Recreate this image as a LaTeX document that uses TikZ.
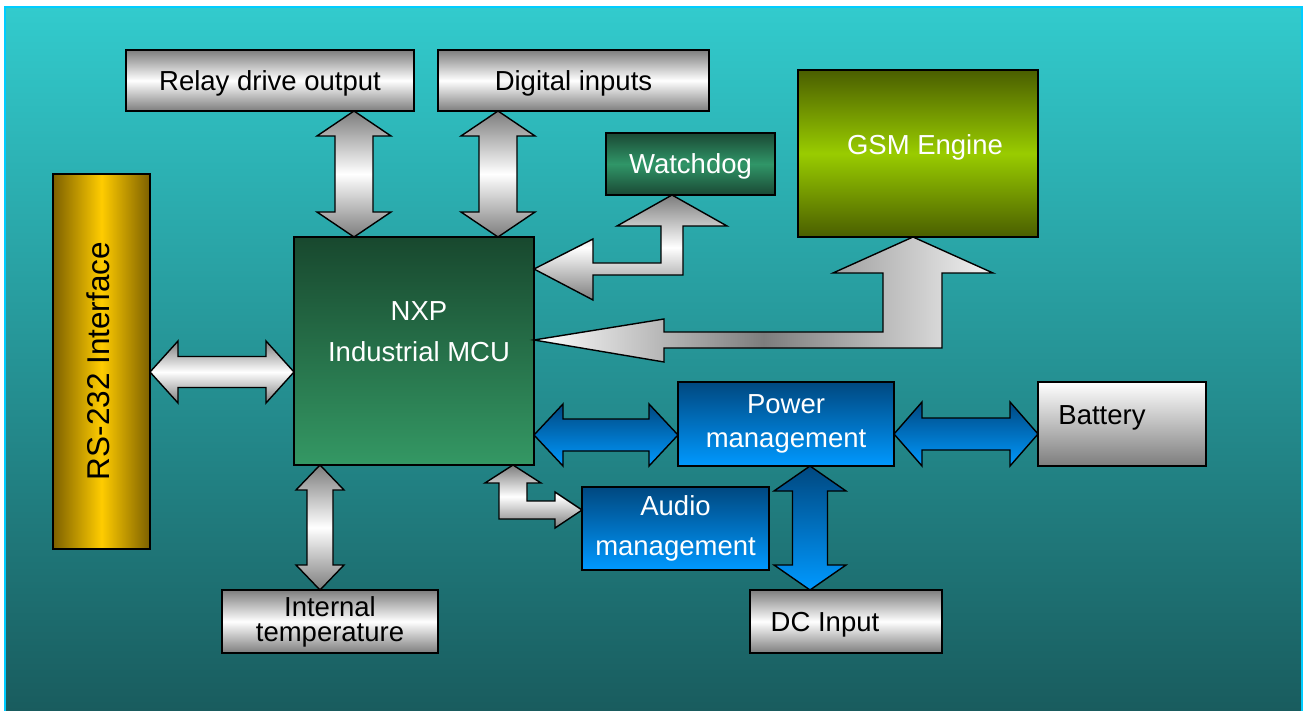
\documentclass[tikz,border=0pt]{standalone}
\usepackage{fontspec}
\setmainfont{Liberation Sans}
\usetikzlibrary{calc}

\definecolor{bgtop}{RGB}{50,203,205}
\definecolor{bgbot}{RGB}{25,92,94}
\definecolor{bgframe}{RGB}{0,204,255}
\definecolor{steel}{RGB}{125,125,125}
\definecolor{wddark}{RGB}{26,72,52}
\definecolor{wdlight}{RGB}{48,150,104}
\definecolor{gsmdark}{RGB}{74,94,0}
\definecolor{gsmlight}{RGB}{153,204,0}
\definecolor{golddark}{RGB}{125,96,0}
\definecolor{goldlight}{RGB}{255,204,0}
\definecolor{mcutop}{RGB}{24,72,46}
\definecolor{mcubot}{RGB}{52,152,100}
\definecolor{bluedark}{RGB}{0,72,128}
\definecolor{bluelight}{RGB}{0,153,255}

\newcommand\dblarrowv[6]{%
  \draw[#1] let \p1=#2, \p2=#3 in
    (\x1,\y1) -- (\x1+#4,\y1-#6) -- (\x1+#5,\y1-#6) -- (\x1+#5,\y2+#6)
    -- (\x1+#4,\y2+#6) -- (\x1,\y2) -- (\x1-#4,\y2+#6) -- (\x1-#5,\y2+#6)
    -- (\x1-#5,\y1-#6) -- (\x1-#4,\y1-#6) -- cycle;}
\newcommand\dblarrowh[6]{%
  \draw[#1] let \p1=#2, \p2=#3 in
    (\x1,\y1) -- (\x1+#6,\y1+#4) -- (\x1+#6,\y1+#5) -- (\x2-#6,\y1+#5)
    -- (\x2-#6,\y1+#4) -- (\x2,\y1) -- (\x2-#6,\y1-#4) -- (\x2-#6,\y1-#5)
    -- (\x1+#6,\y1-#5) -- (\x1+#6,\y1-#4) -- cycle;}

\begin{document}
\begin{tikzpicture}[x=1pt,y=-1pt,
  blk/.style={draw=black,line width=1.4pt,inner sep=0pt,outer sep=0pt,
    font=\fontsize{27.5}{33}\selectfont},
  oneline/.style={text height=26pt,text depth=6pt},
  lbl/.style={inner sep=0pt,font=\fontsize{27.5}{33}\selectfont},
  silverbox/.style={blk,top color=steel,bottom color=steel,middle color=white},
  batbox/.style={blk,top color=white,bottom color=steel},
  greenbox/.style={blk,text=white,top color=wddark,bottom color=wddark,middle color=wdlight},
  olivebox/.style={blk,top color=gsmdark,bottom color=gsmdark,middle color=gsmlight},
  goldbox/.style={blk,left color=golddark,right color=golddark,middle color=goldlight},
  mcubox/.style={blk,top color=mcutop,bottom color=mcubot},
  bluebox/.style={blk,text=white,top color=bluedark,bottom color=bluelight},
  silver/.style={draw=black,line width=1.4pt,top color=steel,bottom color=steel,middle color=white},
  gsmarrow/.style={draw=black,line width=1.4pt,left color=white,right color=gray!10,middle color=steel},
  bluearrow/.style={draw=black,line width=1.4pt,top color=bluedark,bottom color=bluelight}]
  \useasboundingbox (0,0) rectangle (1303,711);
  \fill[top color=bgtop,bottom color=bgbot] (5,7) rectangle (1302,711);
  \draw[bgframe,line width=1.5pt] (5,711) -- (5,7) -- (1302,7) -- (1302,711);

  \node[silverbox,oneline,minimum width=288pt,minimum height=61pt] (relay) at (270,80.5) {Relay drive output};
  \node[silverbox,oneline,minimum width=271pt,minimum height=61pt] (digin) at (573.5,80.5) {Digital inputs};
  \node[greenbox,oneline,minimum width=169pt,minimum height=62pt] (wdog) at (690.5,164) {Watchdog};
  \node[olivebox,minimum width=240pt,minimum height=167pt] (gsm) at (918,153.5) {};
  \node[lbl,text=white] (gsmtxt) at (925,147) {GSM Engine};
  \node[goldbox,minimum width=97pt,minimum height=375pt] (rs) at (101.5,361.5) {};
  \node[lbl,rotate=90,font=\fontsize{31.5}{36}\selectfont] (rstxt) at (98,361) {RS-232 Interface};
  \node[mcubox,minimum width=240pt,minimum height=228pt] (mcu) at (414,351) {};
  \node[lbl,text=white,align=center,font=\fontsize{27.5}{41}\selectfont] (mcutxt) at (419,332) {NXP\\Industrial MCU};
  \node[bluebox,minimum width=216pt,minimum height=84pt,align=center,
    font=\fontsize{27.5}{34}\selectfont] (pwr) at (786,424) {Power\\management};
  \node[batbox,minimum width=168pt,minimum height=84pt] (bat) at (1122,424) {};
  \node[lbl] (battxt) at (1102,418) {Battery};
  \node[bluebox,minimum width=187pt,minimum height=83pt,align=center,
    font=\fontsize{27.5}{40}\selectfont] (aud) at (675.5,528.5) {Audio\\management};
  \node[silverbox,minimum width=192pt,minimum height=63pt] (dc) at (846,621.5) {};
  \node[lbl] (dctxt) at (825,625) {DC Input};
  \node[silverbox,minimum width=216pt,minimum height=63pt,align=center,
    font=\fontsize{27.5}{25}\selectfont] (temp) at (330,621.5) {Internal\\temperature};

  \dblarrowv{silver}{(354,0 |- relay.south)}{(354,0 |- mcu.north)}{37pt}{19pt}{25pt}
  \dblarrowv{silver}{(498,0 |- digin.south)}{(498,0 |- mcu.north)}{37pt}{19pt}{25pt}
  \dblarrowv{silver}{(320,0 |- mcu.south)}{(320,0 |- temp.north)}{24pt}{13pt}{25pt}
  \dblarrowv{bluearrow}{(810,0 |- pwr.south)}{(810,0 |- dc.north)}{36pt}{17.5pt}{25pt}
  \dblarrowh{silver}{(rs.east |- 0,372)}{(mcu.west |- 0,372)}{31pt}{15.5pt}{28pt}
  \dblarrowh{bluearrow}{(mcu.east |- 0,435)}{(pwr.west |- 0,435)}{31pt}{16pt}{29pt}
  \dblarrowh{bluearrow}{(pwr.east |- 0,434)}{(bat.west |- 0,434)}{32pt}{16pt}{28pt}

  \draw[silver] let \p1=(672,0 |- wdog.south), \p2=(mcu.east |- 0,269) in
    (\x1,\y1) -- (\x1+55pt,\y1-31pt) -- (\x1+11pt,\y1-31pt) -- (\x1+11pt,\y2-6pt)
    -- (\x2+59pt,\y2-6pt) -- (\x2+59pt,\y2-31pt) -- (\x2,\y2) -- (\x2+59pt,\y2+30pt)
    -- (\x2+59pt,\y2+6pt) -- (\x1-11pt,\y2+6pt) -- (\x1-11pt,\y1-31pt) -- (\x1-55pt,\y1-31pt) -- cycle;
  \draw[gsmarrow] let \p1=(913,0 |- gsm.south), \p2=(mcu.east |- 0,340) in
    (\x1,\y1) -- (\x1+80pt,\y1-36pt) -- (\x1+29pt,\y1-36pt) -- (\x1+29pt,\y2-8pt)
    -- (\x2+130pt,\y2-8pt) -- (\x2+130pt,\y2-22pt) -- (\x2,\y2) -- (\x2+130pt,\y2+21pt)
    -- (\x2+130pt,\y2+8pt) -- (\x1-30pt,\y2+8pt) -- (\x1-30pt,\y1-36pt) -- (\x1-80pt,\y1-36pt) -- cycle;
  \draw[silver] let \p1=(513,0 |- mcu.south), \p2=(aud.west |- 0,510) in
    (\x1,\y1) -- (\x1+28pt,\y1-18pt) -- (\x1+14pt,\y1-18pt) -- (\x1+14pt,\y2+9pt)
    -- (\x2-27pt,\y2+9pt) -- (\x2-27pt,\y2+18pt) -- (\x2,\y2) -- (\x2-27pt,\y2-18pt)
    -- (\x2-27pt,\y2-9pt) -- (\x1-14pt,\y2-9pt) -- (\x1-14pt,\y1-18pt) -- (\x1-28pt,\y1-18pt) -- cycle;
\end{tikzpicture}
\end{document}
